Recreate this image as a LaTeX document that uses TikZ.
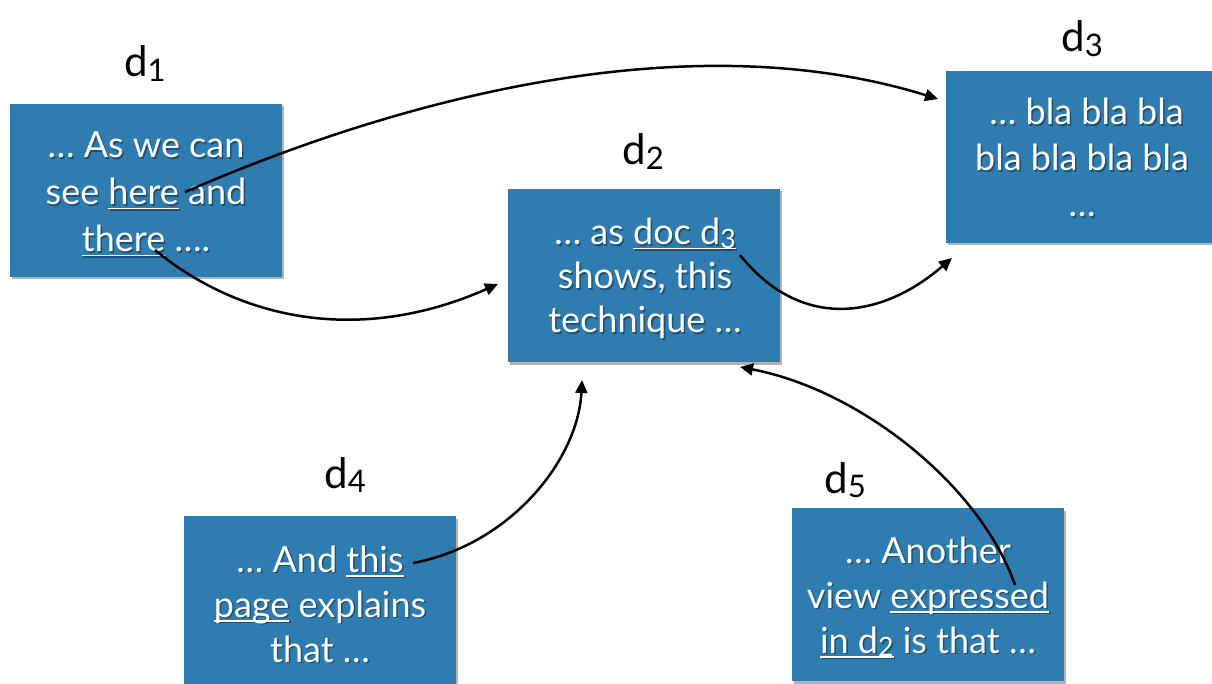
\documentclass[tikz,border=0pt]{standalone}
\usepackage{fontspec}
\setmainfont{Lato}
\usetikzlibrary{arrows.meta,shadows}
\definecolor{boxblue}{RGB}{46,124,176}

% underlined link word, rule at a fixed depth below the baseline
\newcommand\lnk[1]{\setbox0\hbox{#1}\rlap{\rule[-4.5pt]{\wd0}{1.7pt}}\box0\relax}
% lowered, reduced subscript digit
\newcommand\dsub[1]{\raisebox{-0.1em}{\scalebox{0.74}{#1}}}
% white box text with a soft dark shadow behind it:
% #1 name, #2 position (baseline of last line), #3 line spacing, #4 text
\newcommand\doctext[4]{%
  \node[doctext, text=black, opacity=0.35, font=\fontsize{36}{#3}\selectfont]
    (#1s) at ([shift={(1.5,1.5)}]#2) {#4};
  \node[doctext, font=\fontsize{36}{#3}\selectfont] (#1) at (#2) {#4};}

\tikzset{
  docbox/.style={fill=boxblue, draw=none, inner sep=0pt,
    drop shadow={shadow xshift=1.5pt, shadow yshift=-2.5pt, opacity=0.3, fill=black}},
  doctext/.style={text=white, align=center, anchor=base},
  doclabel/.style={font=\fontsize{42}{44}\selectfont, anchor=base},
  link/.style={line width=2.5pt, -{Triangle[length=13pt,width=12pt]}},
}

\begin{document}
\begin{tikzpicture}[x=1pt,y=-1pt]
\useasboundingbox (0,0) rectangle (1212,684);

% document boxes
\node[docbox, minimum width=272pt, minimum height=173pt] (b1) at (146,190.5) {};
\node[docbox, minimum width=272pt, minimum height=173pt] (b2) at (644,275.5) {};
\node[docbox, minimum width=268pt, minimum height=172pt] (b3) at (1080,157) {};
\node[docbox, minimum width=272pt, minimum height=172pt] (b4) at (320,602) {};
\node[docbox, minimum width=272pt, minimum height=173pt] (b5) at (928,594.5) {};

% labels
\node[doclabel] (l1) at (145,77) {d\dsub{1}};
\node[doclabel] (l2) at (643,165) {d\dsub{2}};
\node[doclabel] (l3) at (1082,52) {d\dsub{3}};
\node[doclabel] (l4) at (345,488) {d\dsub{4}};
\node[doclabel] (l5) at (845,493) {d\dsub{5}};

% box texts
\doctext{t1}{146,252}{47}{… As we can\\ see \lnk{here} and\\ \lnk{there} ….}
\doctext{t2}{645,333}{44}{… as \lnk{doc d\dsub{3}}\\ shows, this\\ technique …}
\doctext{t3}{1082,217}{46}{~… bla bla bla\\ bla bla bla bla\\ …}
\doctext{t4}{320,662}{45}{… And \lnk{this}\\ \lnk{page} explains\\ that …}
\doctext{t5}{928,653}{45}{… Another\\ view \lnk{expressed}\\ \lnk{in d\dsub{2}} is that …}

% link anchors and arrow targets
\coordinate (here)  at (185,192);
\coordinate (there) at (155,250);
\coordinate (doc3)  at (740,255);
\coordinate (this)  at (413,563);
\coordinate (expr)  at (1015,585);
\coordinate (e1) at (938,99);
\coordinate (e2) at (498,284);
\coordinate (e3) at (952,258);
\coordinate (e4) at (582,380);
\coordinate (e5) at (740,367);

% hyperlinks
\draw[link] (here)  .. controls (420,90)  and (700,25)  .. (e1);
\draw[link] (there) .. controls (240,320) and (360,345) .. (e2);
\draw[link] (doc3)  .. controls (800,330) and (880,320) .. (e3);
\draw[link] (this)  .. controls (510,545) and (578,460) .. (e4);
\draw[link] (expr)  .. controls (980,485) and (860,390) .. (e5);
\end{tikzpicture}
\end{document}
